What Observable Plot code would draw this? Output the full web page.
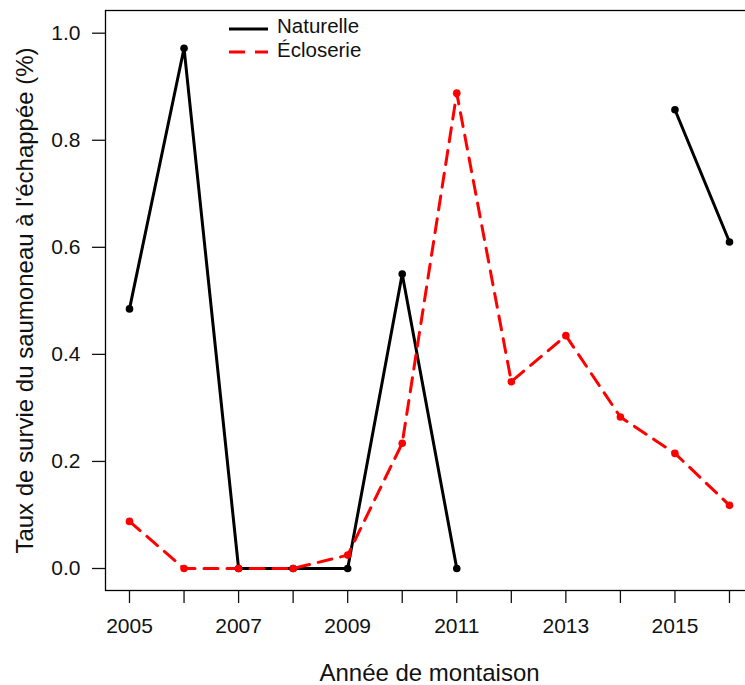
<!DOCTYPE html>
<html><head><meta charset="utf-8">
<script src="https://cdn.jsdelivr.net/npm/d3@7"></script>
<script src="https://cdn.jsdelivr.net/npm/@observablehq/plot@0.6"></script>
<style>
html,body{margin:0;padding:0;background:#fff;}
#wrap{position:relative;width:745px;height:685px;overflow:hidden;font-family:"Liberation Sans",Arial,sans-serif;color:#111;}
#chart svg{max-width:none !important;display:block;}
#legend{position:absolute;left:220px;top:12px;}
</style></head><body>
<div id="wrap"><div id="chart"></div>
<svg id="legend" width="150" height="56"></svg>
</div>
<script>
const years = [2005, 2006, 2007, 2008, 2009, 2010, 2011, 2012, 2013, 2014, 2015, 2016];
const naturelle = [0.485, 0.972, 0, 0, 0, 0.55, 0, null, null, null, 0.857, 0.61];
const ecloserie = [0.088, 0, 0, 0, 0.025, 0.234, 0.888, 0.349, 0.435, 0.283, 0.215, 0.118];
const yTicks = [0, 0.2, 0.4, 0.6, 0.8, 1.0];
const seriesNames = ["Naturelle", "Écloserie"];
const seriesColors = ["#000000", "#ff0000"];
const xTitle = "Année de montaison";
const yTitle = "Taux de survie du saumoneau à l'échappée (%)";

const nat = years.map((x, i) => ({x, y: naturelle[i]}));
const ecl = years.map((x, i) => ({x, y: ecloserie[i]}));
const font = "'Liberation Sans', Arial, sans-serif";

const plot = Plot.plot({
  width: 770, height: 685,
  marginLeft: 105, marginRight: 17, marginTop: 10, marginBottom: 95,
  style: {fontFamily: font, background: "white", color: "#111", maxWidth: "none"},
  x: {domain: [2004.56, 2016.44]},
  y: {domain: [-0.0411, 1.0424]},
  marks: [
    Plot.frame({stroke: "#000", strokeWidth: 1.3}),
    Plot.axisY({ticks: yTicks, tickFormat: d3.format(".1f"), tickSize: 13, tickPadding: 12, fontSize: 21, label: null, strokeWidth: 1.3}),
    Plot.axisX({ticks: years, tickFormat: d => d % 2 === 1 ? String(d) : "", tickSize: 13, tickPadding: 15, fontSize: 21, label: null, strokeWidth: 1.3}),
    Plot.text([xTitle], {frameAnchor: "bottom", textAnchor: "middle", dy: 73, fontSize: 24, lineAnchor: "top", fill: "#111"}),
    Plot.text([yTitle], {frameAnchor: "left", textAnchor: "middle", dx: -80, rotate: -90, fontSize: 24, lineAnchor: "middle", fill: "#111"}),
    Plot.line(nat, {x: "x", y: "y", stroke: seriesColors[0], strokeWidth: 3}),
    Plot.dot(nat, {x: "x", y: "y", fill: seriesColors[0], r: 3.8}),
    Plot.line(ecl, {x: "x", y: "y", stroke: seriesColors[1], strokeWidth: 3, strokeDasharray: "14,9"}),
    Plot.dot(ecl, {x: "x", y: "y", fill: seriesColors[1], r: 3.8})
  ]
});
document.getElementById("chart").appendChild(plot);

// legend
const lg = d3.select("#legend");
lg.append("rect").attr("width", 150).attr("height", 56).attr("fill", "white");
seriesNames.forEach((name, i) => {
  const yy = 17 + i * 23;
  lg.append("line").attr("x1", 9).attr("x2", 48).attr("y1", yy).attr("y2", yy)
    .attr("stroke", seriesColors[i]).attr("stroke-width", 3)
    .attr("stroke-dasharray", i === 1 ? "16,10" : null);
  lg.append("text").attr("x", 57).attr("y", yy + 4 + (i === 1 ? 1 : 0)).text(name)
    .attr("font-size", 20.5).attr("font-family", font).attr("fill", "#111");
});
</script>
</body></html>
